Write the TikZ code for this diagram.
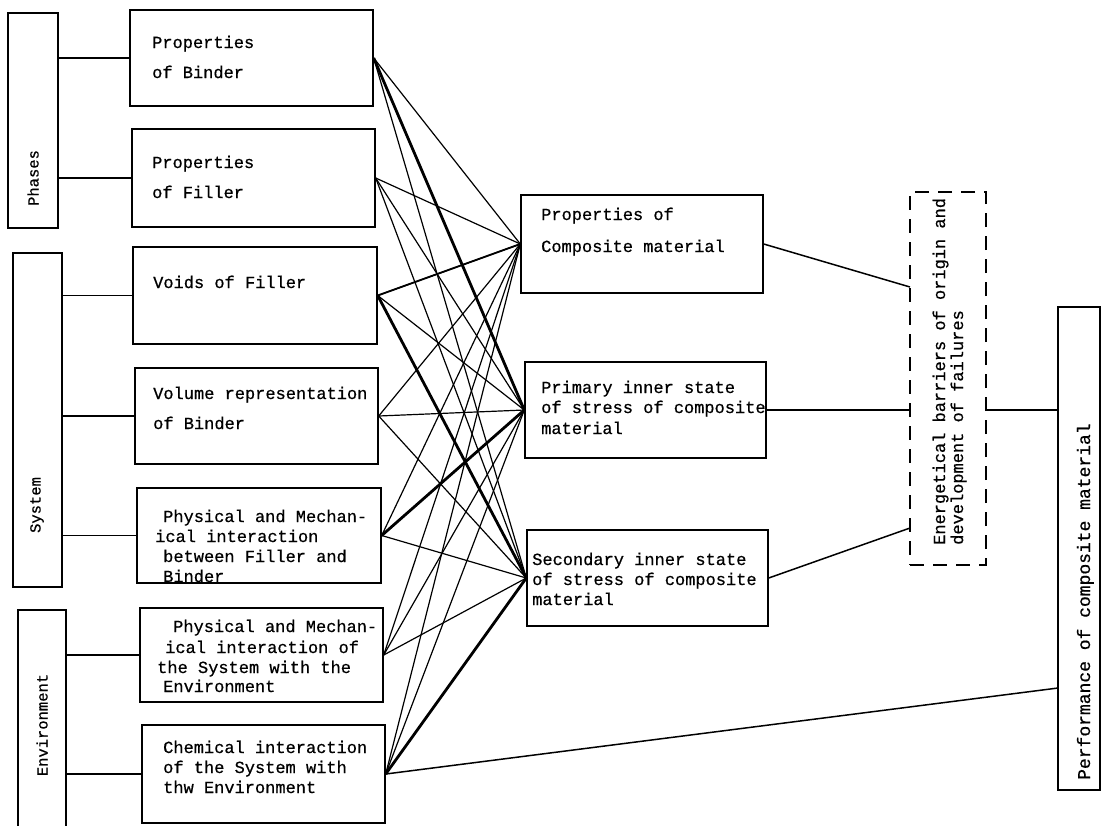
\documentclass[tikz,border=0pt]{standalone}
\usepackage{fontspec}
\setmonofont[FakeBold=0.6]{Liberation Mono}
\begin{document}
\begin{tikzpicture}[x=1pt,y=-1pt,
  box/.style={draw, line width=1.4pt, rectangle, inner sep=0pt},
  dbox/.style={draw, line width=1.4pt, rectangle, inner sep=0pt, dash pattern=on 14pt off 9pt},
  txt/.style={anchor=base west, inner sep=0pt, font=\ttfamily\fontsize{17}{20}\selectfont},
  grp/.style={rotate=90, inner sep=0pt, font=\ttfamily\fontsize{15.5}{17}\selectfont},
  vtxt/.style={rotate=90, anchor=base west, inner sep=0pt, font=\ttfamily\fontsize{17}{20}\selectfont},
  conn/.style={line width=1.2pt},
  thickconn/.style={line width=2.8pt},
  link/.style={line width=1.5pt}]
\clip (0,0) rectangle (1102,825);
\fill[white] (0,0) rectangle (1102,825);

% group boxes
\node[box, minimum width=50pt, minimum height=215pt] (ph) at (33,120.5) {};
\node[box, minimum width=49pt, minimum height=334pt] (sy) at (37.5,420) {};
\node[box, minimum width=48pt, minimum height=230pt] (en) at (42,725) {};
\node[grp] (phl) at (33,178) {Phases};
\node[grp] (syl) at (37,505) {System};
\node[grp] (enl) at (42,725) {Environment};

% left boxes
\node[box, minimum width=243pt, minimum height=96pt] (bi) at (251.5,58) {};
\node[box, minimum width=243pt, minimum height=98pt] (fi) at (253.5,178) {};
\node[box, minimum width=244pt, minimum height=97pt] (vo) at (255,295.5) {};
\node[box, minimum width=243pt, minimum height=96pt] (vr) at (256.5,416) {};
\node[box, minimum width=244pt, minimum height=95pt] (pb) at (259,535.5) {};
\node[box, minimum width=243pt, minimum height=94pt] (pe) at (261.5,655) {};
\node[box, minimum width=243pt, minimum height=98pt] (ch) at (263.5,774) {};

\node[txt] (bi1) at (152,48) {Properties};
\node[txt] (bi2) at (152,78) {of Binder};
\node[txt] (fi1) at (152,168) {Properties};
\node[txt] (fi2) at (152,198) {of Filler};
\node[txt] (vo1) at (153,288) {Voids of Filler};
\node[txt] (vr1) at (153,399) {Volume representation};
\node[txt] (vr2) at (153,429) {of Binder};
\node[txt] (pb1) at (163,522) {Physical and Mechan-};
\node[txt] (pb2) at (155,542) {ical interaction};
\node[txt] (pb3) at (163,562) {between Filler and};
\node[txt] (pb4) at (163,582) {Binder};
\node[txt] (pe1) at (173,632) {Physical and Mechan-};
\node[txt] (pe2) at (165,653) {ical interaction of};
\node[txt] (pe3) at (157,673) {the System with the};
\node[txt] (pe4) at (163,692) {Environment};
\node[txt] (ch1) at (163,753) {Chemical interaction};
\node[txt] (ch2) at (163,773) {of the System with};
\node[txt] (ch3) at (163,793) {thw Environment};

% middle boxes
\node[box, minimum width=242pt, minimum height=98pt] (co) at (642,244) {};
\node[box, minimum width=241pt, minimum height=96pt] (pr) at (645.5,410) {};
\node[box, minimum width=241pt, minimum height=96pt] (se) at (647.5,578) {};
\node[txt] (co1) at (541,220) {Properties of};
\node[txt] (co2) at (541,252) {Composite material};
\node[txt] (pr1) at (541,393) {Primary inner state};
\node[txt] (pr2) at (541,413) {of stress of composite};
\node[txt] (pr3) at (541,434) {material};
\node[txt] (se1) at (532,565) {Secondary inner state};
\node[txt] (se2) at (532,585) {of stress of composite};
\node[txt] (se3) at (532,605) {material};

% right boxes
\node[dbox, minimum width=76pt, minimum height=373pt] (eb) at (948,378.5) {};
\node[vtxt] (eb1) at (945,545) {Energetical barriers of origin and};
\node[vtxt] (eb2) at (963,545) {development of failures};
\node[box, minimum width=42pt, minimum height=483pt] (pf) at (1079,548.5) {};
\node[vtxt, font=\ttfamily\fontsize{18}{20}\selectfont] (pf1) at (1090,780) {Performance of composite material};

% group connectors
\foreach \g/\b in {ph/bi, ph/fi, sy/vo, sy/vr, sy/pb, en/pe, en/ch}
  \draw[link] (\b.west -| \g.east) -- (\b.west);

% crossing connectors
\foreach \l in {bi,fi,vo,vr,pb,pe,ch}
  \foreach \r in {co,pr,se}
    \draw[conn] (\l.east) -- (\r.west);
\draw[thickconn] (bi.east) -- (pr.west);
\draw[thickconn] (vo.east) -- (se.west);
\draw[thickconn] (pb.east) -- (pr.west);
\draw[thickconn] (ch.east) -- (se.west);
\draw[line width=1.8pt] (vo.east) -- (co.west);

% right connectors
\coordinate (e1) at (910,287);
\coordinate (e3) at (910,528);
\coordinate (p2) at (1058,688);
\draw[link] (co.east) -- (e1);
\draw[link] (pr.east) -- (pr.east -| eb.west);
\draw[link] (se.east) -- (e3);
\draw[link] (eb.east |- pr.east) -- (pf.west |- pr.east);
\draw[link] (ch.east) -- (p2);
\end{tikzpicture}
\end{document}
